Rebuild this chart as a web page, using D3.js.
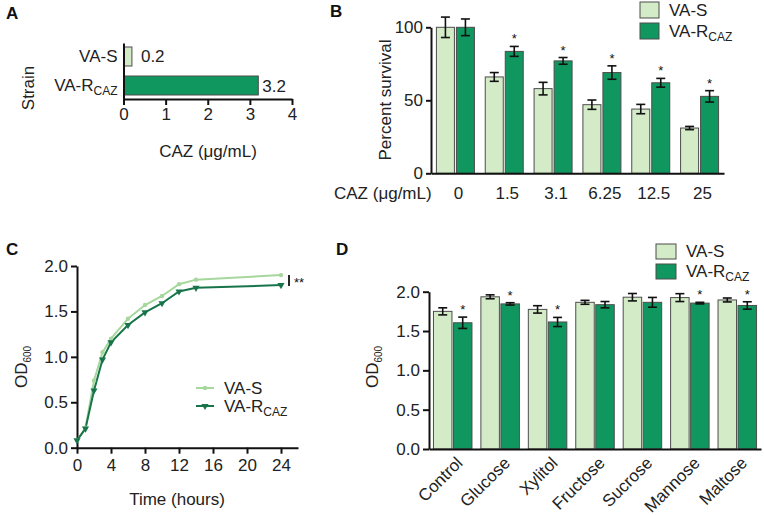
<!DOCTYPE html>
<html><head><meta charset="utf-8">
<script src="https://cdn.jsdelivr.net/npm/d3@7"></script>
<style>
body{margin:0;background:#fff;}
svg{font-family:"Liberation Sans",Arial,sans-serif;}
</style></head><body>
<svg id="c" width="764" height="515"></svg>
<script>
// ---------- DATA ----------
const strains = ["VA-S", "VA-R"];
const micValues = [0.2, 3.2];
const micTicks = [0, 1, 2, 3, 4];

const cazDoses = ["0", "1.5", "3.1", "6.25", "12.5", "25"];
const survivalS = [100, 66, 58, 47, 44, 31];
const survivalSErr = [7, 3, 4.3, 3.2, 3.2, 1.1];
const survivalR = [100, 83.5, 77, 69, 62, 52.7];
const survivalRErr = [5.7, 3.4, 2.3, 4.6, 3, 3.9];
const survivalSig = [false, true, true, true, true, true];
const survivalTicks = [0, 50, 100];

const hours = [0, 1, 2, 3, 4, 6, 8, 10, 12, 14, 24];
const growthS = [0.08, 0.22, 0.74, 1.05, 1.2, 1.42, 1.57, 1.67, 1.8, 1.85, 1.9];
const growthR = [0.08, 0.21, 0.63, 0.97, 1.16, 1.35, 1.49, 1.59, 1.72, 1.76, 1.79];
const hourTicks = [0, 4, 8, 12, 16, 20, 24];
const odTicks = [0, 0.5, 1.0, 1.5, 2.0];

const sugars = ["Control", "Glucose", "Xylitol", "Fructose", "Sucrose", "Mannose", "Maltose"];
const sugarS = [1.75, 1.935, 1.775, 1.865, 1.93, 1.925, 1.895];
const sugarSErr = [0.045, 0.025, 0.047, 0.025, 0.047, 0.05, 0.025];
const sugarR = [1.605, 1.845, 1.615, 1.835, 1.865, 1.855, 1.825];
const sugarRErr = [0.072, 0.015, 0.058, 0.04, 0.062, 0.01, 0.047];
const sugarSig = [true, true, true, false, false, true, true];

// ---------- STYLE ----------
const light = "#d3ebc7", dark = "#10975f";
const lineLight = "#a6d79c", lineDark = "#18744a";
const barStroke = "#4d4d4d";
const FS = 17;

const svg = d3.select("#c");

function styleAxis(g) {
  g.attr("font-size", FS).attr("font-family", "Liberation Sans, Arial, sans-serif");
  g.selectAll("path.domain").attr("stroke", "#111").attr("stroke-width", 2);
  g.selectAll(".tick line").attr("stroke", "#111").attr("stroke-width", 2);
  g.selectAll(".tick text").attr("font-size", FS).attr("fill", "#222");
}
function rcaz(sel, base) {
  sel.text(null);
  sel.append("tspan").text(base || "VA-R");
  sel.append("tspan").attr("font-size", 12).attr("dy", 4).text("CAZ");
}
function panelLetter(x, y, t) {
  svg.append("text").attr("x", x).attr("y", y).attr("font-size", 17).attr("font-weight", "bold").attr("fill", "#111").text(t);
}
function errBar(g, x, yTop, yBot, w) {
  g.append("line").attr("x1", x).attr("x2", x).attr("y1", yTop).attr("y2", yBot).attr("stroke", "#111").attr("stroke-width", 1.6);
  g.append("line").attr("x1", x - w).attr("x2", x + w).attr("y1", yTop).attr("y2", yTop).attr("stroke", "#111").attr("stroke-width", 1.6);
  g.append("line").attr("x1", x - w).attr("x2", x + w).attr("y1", yBot).attr("y2", yBot).attr("stroke", "#111").attr("stroke-width", 1.6);
}
function star(g, x, y, t) {
  g.append("text").attr("x", x).attr("y", y).attr("text-anchor", "middle").attr("font-size", 13).attr("fill", "#111").text(t || "*");
}
function odTitle(x, y) {
  const t = svg.append("text").attr("transform", `translate(${x},${y}) rotate(-90)`).attr("text-anchor", "middle").attr("font-size", FS).attr("fill", "#222");
  t.append("tspan").text("OD");
  t.append("tspan").attr("font-size", 10).attr("dy", 4).text("600");
}

// ---------- PANEL A ----------
panelLetter(6, 19, "A");
{
  const x = d3.scaleLinear().domain([0, 4]).range([123.5, 292]);
  const y = d3.scaleBand().domain(strains).range([43, 99]).paddingInner(0.345).paddingOuter(0.138);
  const g = svg.append("g");
  g.selectAll("rect").data(strains).join("rect")
    .attr("x", x(0)).attr("y", d => y(d))
    .attr("width", (d, i) => x(micValues[i]) - x(0)).attr("height", y.bandwidth())
    .attr("fill", (d, i) => i ? dark : light).attr("stroke", barStroke).attr("stroke-width", 1);
  g.selectAll("text.val").data(strains).join("text").attr("class", "val")
    .attr("x", (d, i) => x(micValues[i]) + (i ? 4 : 9)).attr("y", d => y(d) + y.bandwidth() / 2 + 6)
    .attr("font-size", FS).attr("fill", "#222").text((d, i) => micValues[i].toFixed(1));
  const ax = svg.append("g").attr("transform", "translate(0,99)")
    .call(d3.axisBottom(x).tickValues(micTicks).tickFormat(d3.format("d")).tickSize(6).tickSizeOuter(0).tickPadding(3));
  styleAxis(ax);
  const ay = svg.append("g").attr("transform", "translate(123.5,0)")
    .call(d3.axisLeft(y).tickSize(0).tickPadding(6));
  styleAxis(ay);
  ay.selectAll(".tick text").each(function (d) { if (d === "VA-R") rcaz(d3.select(this)); });
  svg.append("text").attr("x", 208).attr("y", 157).attr("text-anchor", "middle").attr("font-size", FS).attr("fill", "#222").text("CAZ (μg/mL)");
  svg.append("text").attr("transform", "translate(34,88) rotate(-90)").attr("text-anchor", "middle").attr("font-size", FS).attr("fill", "#222").text("Strain");
}

// ---------- PANEL B ----------
panelLetter(330, 17, "B");
{
  const x0 = d3.scaleBand().domain(cazDoses).range([431, 724]).paddingInner(0).paddingOuter(0);
  const y = d3.scaleLinear().domain([0, 100]).range([173.3, 27.3]);
  const bw = 18, gap = 2;
  const g = svg.append("g");
  cazDoses.forEach((d, i) => {
    const c = x0(d) + x0.bandwidth() / 2;
    const xs = c - gap / 2 - bw, xr = c + gap / 2;
    g.append("rect").attr("x", xs).attr("y", y(survivalS[i])).attr("width", bw).attr("height", y(0) - y(survivalS[i]))
      .attr("fill", light).attr("stroke", barStroke).attr("stroke-width", 1);
    g.append("rect").attr("x", xr).attr("y", y(survivalR[i])).attr("width", bw).attr("height", y(0) - y(survivalR[i]))
      .attr("fill", dark).attr("stroke", barStroke).attr("stroke-width", 1);
    errBar(g, xs + bw / 2, y(survivalS[i] + survivalSErr[i]), y(survivalS[i] - survivalSErr[i]), 4.5);
    errBar(g, xr + bw / 2, y(survivalR[i] + survivalRErr[i]), y(survivalR[i] - survivalRErr[i]), 4.5);
    if (survivalSig[i]) star(g, xr + bw / 2, y(survivalR[i] + survivalRErr[i]) - 3);
    svg.append("text").attr("x", c + 3).attr("y", 199).attr("text-anchor", "middle").attr("font-size", FS).attr("fill", "#222").text(d);
  });
  const ax = svg.append("g").attr("transform", "translate(0,173.3)")
    .call(d3.axisBottom(x0).tickValues([]).tickSizeOuter(0));
  styleAxis(ax);
  const ay = svg.append("g").attr("transform", "translate(431,0)")
    .call(d3.axisLeft(y).tickValues(survivalTicks).tickSize(5).tickSizeOuter(0).tickPadding(3));
  styleAxis(ay);
  svg.append("text").attr("x", 334).attr("y", 199).attr("font-size", FS).attr("fill", "#222").text("CAZ (μg/mL)");
  svg.append("text").attr("transform", "translate(391,100) rotate(-90)").attr("text-anchor", "middle").attr("font-size", FS).attr("fill", "#222").text("Percent survival");
  // legend
  const lg = svg.append("g");
  lg.append("rect").attr("x", 640).attr("y", 2).attr("width", 19).attr("height", 16).attr("fill", light).attr("stroke", barStroke);
  lg.append("rect").attr("x", 640).attr("y", 23).attr("width", 19).attr("height", 16).attr("fill", dark).attr("stroke", barStroke);
  lg.append("text").attr("x", 669).attr("y", 16).attr("font-size", FS).attr("fill", "#222").text("VA-S");
  rcaz(lg.append("text").attr("x", 669).attr("y", 37).attr("font-size", FS).attr("fill", "#222"));
}

// ---------- PANEL C ----------
panelLetter(6, 255, "C");
{
  const x = d3.scaleLinear().domain([0, 26]).range([77, 298]);
  const y = d3.scaleLinear().domain([0, 2]).range([447.7, 266]);
  const ax = svg.append("g").attr("transform", "translate(0,447.7)")
    .call(d3.axisBottom(x).tickValues(hourTicks).tickSize(6).tickSizeOuter(0).tickPadding(5));
  styleAxis(ax);
  const ay = svg.append("g").attr("transform", "translate(77,0)")
    .call(d3.axisLeft(y).tickValues(odTicks).tickFormat(d3.format(".1f")).tickSize(6).tickSizeOuter(0).tickPadding(3));
  styleAxis(ay);
  const line = d3.line().x((d, i) => x(hours[i])).y(d => y(d));
  svg.append("path").datum(growthS).attr("d", line).attr("fill", "none").attr("stroke", lineLight).attr("stroke-width", 2);
  svg.append("path").datum(growthR).attr("d", line).attr("fill", "none").attr("stroke", lineDark).attr("stroke-width", 2);
  svg.selectAll("circle.s").data(growthS).join("circle").attr("class", "s")
    .attr("cx", (d, i) => x(hours[i])).attr("cy", d => y(d)).attr("r", 2.2).attr("fill", lineLight);
  const tri = d3.symbol().type(d3.symbolTriangle).size(22);
  svg.selectAll("path.r").data(growthR).join("path").attr("class", "r")
    .attr("d", tri).attr("transform", (d, i) => `translate(${x(hours[i])},${y(d)}) rotate(180)`).attr("fill", lineDark);
  // significance
  svg.append("line").attr("x1", 289).attr("x2", 289).attr("y1", y(1.9)).attr("y2", y(1.78)).attr("stroke", "#111").attr("stroke-width", 1.8);
  star(svg, 299, y(1.8) + 3, "**");
  // legend
  svg.append("line").attr("x1", 196).attr("x2", 214).attr("y1", 388).attr("y2", 388).attr("stroke", lineLight).attr("stroke-width", 2);
  svg.append("circle").attr("cx", 205).attr("cy", 388).attr("r", 2.2).attr("fill", lineLight);
  svg.append("line").attr("x1", 196).attr("x2", 214).attr("y1", 406).attr("y2", 406).attr("stroke", lineDark).attr("stroke-width", 2);
  svg.append("path").attr("d", tri).attr("transform", "translate(205,406) rotate(180)").attr("fill", lineDark);
  svg.append("text").attr("x", 224).attr("y", 394).attr("font-size", FS).attr("fill", "#222").text("VA-S");
  rcaz(svg.append("text").attr("x", 224).attr("y", 412).attr("font-size", FS).attr("fill", "#222"));
  svg.append("text").attr("x", 177).attr("y", 505).attr("text-anchor", "middle").attr("font-size", FS).attr("fill", "#222").text("Time (hours)");
  odTitle(27, 367);
}

// ---------- PANEL D ----------
panelLetter(336, 255, "D");
{
  const x0 = d3.scaleBand().domain(sugars).range([429, 761]).paddingInner(0).paddingOuter(0);
  const y = d3.scaleLinear().domain([0, 2]).range([449, 291.7]);
  const bw = 18.5, gap = 1.5;
  const g = svg.append("g");
  sugars.forEach((d, i) => {
    const c = x0(d) + x0.bandwidth() / 2;
    const xs = c - gap / 2 - bw, xr = c + gap / 2;
    g.append("rect").attr("x", xs).attr("y", y(sugarS[i])).attr("width", bw).attr("height", y(0) - y(sugarS[i]))
      .attr("fill", light).attr("stroke", barStroke).attr("stroke-width", 1);
    g.append("rect").attr("x", xr).attr("y", y(sugarR[i])).attr("width", bw).attr("height", y(0) - y(sugarR[i]))
      .attr("fill", dark).attr("stroke", barStroke).attr("stroke-width", 1);
    errBar(g, xs + bw / 2, y(sugarS[i] + sugarSErr[i]), y(sugarS[i] - sugarSErr[i]), 4.5);
    errBar(g, xr + bw / 2, y(sugarR[i] + sugarRErr[i]), y(sugarR[i] - sugarRErr[i]), 4.5);
    if (sugarSig[i]) star(g, xr + bw / 2, y(sugarR[i] + sugarRErr[i]) - 3);
  });
  const ax = svg.append("g").attr("transform", "translate(0,449)")
    .call(d3.axisBottom(x0).tickSize(0).tickSizeOuter(0).tickPadding(0));
  styleAxis(ax);
  ax.selectAll(".tick text").attr("text-anchor", "end").attr("dy", null).attr("y", 0)
    .attr("transform", "translate(11,15) rotate(-45)");
  const ay = svg.append("g").attr("transform", "translate(429,0)")
    .call(d3.axisLeft(y).tickValues(odTicks).tickFormat(d3.format(".1f")).tickSize(6).tickSizeOuter(0).tickPadding(3));
  styleAxis(ay);
  odTitle(378, 367);
  const lg = svg.append("g");
  lg.append("rect").attr("x", 656).attr("y", 244).attr("width", 20).attr("height", 15).attr("fill", light).attr("stroke", barStroke);
  lg.append("rect").attr("x", 656).attr("y", 264).attr("width", 20).attr("height", 15).attr("fill", dark).attr("stroke", barStroke);
  lg.append("text").attr("x", 686).attr("y", 257).attr("font-size", FS).attr("fill", "#222").text("VA-S");
  rcaz(lg.append("text").attr("x", 686).attr("y", 277).attr("font-size", FS).attr("fill", "#222"));
}
</script>
</body></html>
